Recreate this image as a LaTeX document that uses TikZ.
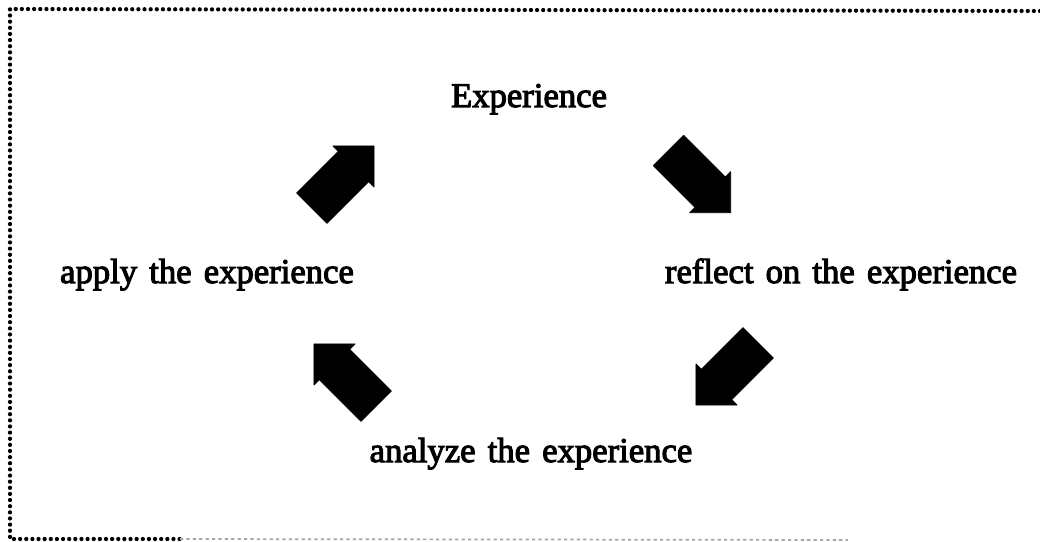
\documentclass[tikz,border=0pt]{standalone}
\usepackage{fontspec}
\setmainfont{Liberation Serif}
\newfontfamily\labelfont[FakeBold=3,WordSpace=1.4]{Liberation Serif}
\begin{document}
\begin{tikzpicture}[x=0.75pt,y=-0.75pt,
  label/.style={anchor=base,inner sep=0pt,font=\labelfont\fontsize{26}{30}\selectfont},
  dotline/.style={line width=3.2pt,line cap=round,dash pattern=on 0pt off 4.6pt,black},
  fadeline/.style={line width=1.3pt,dash pattern=on 2.4pt off 2.4pt,black!35},
  blockarrow/.style={fill=black,draw=black,line width=0.6pt,line join=round}]
\useasboundingbox (0,0) rectangle (1040,542);
\fill[white] (0,0) rectangle (1040,542);
% border
\coordinate (tl) at (10,9);
\coordinate (tr) at (1040,11);
\coordinate (bl) at (10,539);
\coordinate (bm) at (180,539);
\coordinate (br) at (848,540);
\draw[dotline] (tr) -- (tl) -- (bl) -- (bm);
\draw[fadeline] (bm) -- (br);
% labels
\node[label] (exp) at (529,107) {Experience};
\node[label] (refl) at (841,283) {reflect on the experience};
\node[label] (appl) at (207,283) {apply the experience};
\node[label] (anal) at (531,462) {analyze the experience};
% arrows: tail midpoints
\coordinate (a1) at (311.8,208.2);
\coordinate (a2) at (668.5,150.5);
\coordinate (a3) at (758.2,342.8);
\coordinate (a4) at (376.2,406.2);
\foreach \c/\r in {a1/45,a2/-45,a3/-135,a4/135}{
  \begin{scope}[shift={(\c)},rotate=\r]
    \draw[blockarrow] (0,-21.5) -- (59,-21.5) -- (59,-29) -- (88,0) -- (59,29) -- (59,21.5) -- (0,21.5) -- cycle;
  \end{scope}
}
\end{tikzpicture}
\end{document}
